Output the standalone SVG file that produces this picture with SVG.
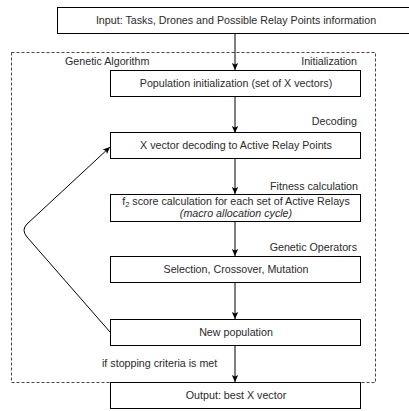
<svg xmlns="http://www.w3.org/2000/svg" width="409" height="411" viewBox="0 0 409 411">
<defs>
<marker id="ah" markerWidth="8" markerHeight="8" refX="7" refY="4" orient="auto" markerUnits="userSpaceOnUse">
<path d="M0,0.8 L7,4 L0,7.2 L1.5,4 Z" fill="#000"/>
</marker>
</defs>
<style>
.box{fill:#fff;stroke:#000;stroke-width:1}
.t{font-family:"Liberation Sans",Arial,sans-serif;font-size:10.7px;fill:#2a2a2a;text-anchor:middle}
.lbl{font-family:"Liberation Sans",Arial,sans-serif;font-size:10.7px;fill:#2a2a2a}
.c{fill:none;stroke:#000;stroke-width:1;marker-end:url(#ah)}
</style>
<rect width="409" height="411" fill="#fff"/>
<g id="genetic-algorithm">
<rect x="11.5" y="52.5" width="364" height="330" fill="none" stroke="#444" stroke-width="1" stroke-dasharray="3,2"/>
<text class="lbl" x="65" y="65">Genetic Algorithm</text>
</g>
<g id="connectors">
<path class="c" d="M235,33 V70"/>
<path class="c" d="M235,96 V133"/>
<path class="c" d="M235,158 V194"/>
<path class="c" d="M235,221 V256"/>
<path class="c" d="M235,283 V319"/>
<path class="c" d="M235,346 V382"/>
<path class="c" d="M110,332 L27,237 Q21,230 27,224 L110,147"/>
</g>
<g id="input">
<rect class="box" x="57.5" y="7.5" width="353" height="26"/>
<text class="t" x="236" y="24">Input: Tasks, Drones and Possible Relay Points information</text>
</g>
<g id="init">
<text class="lbl" x="357" y="65" text-anchor="end">Initialization</text>
<rect class="box" x="110.5" y="70.5" width="250" height="26"/>
<text class="t" x="236" y="87">Population initialization (set of X vectors)</text>
</g>
<g id="decoding">
<text class="lbl" x="357" y="125" text-anchor="end">Decoding</text>
<rect class="box" x="110.5" y="132.5" width="250" height="26"/>
<text class="t" x="236" y="149">X vector decoding to Active Relay Points</text>
</g>
<g id="fitness">
<text class="lbl" x="358" y="190" text-anchor="end">Fitness calculation</text>
<rect class="box" x="110.5" y="194.5" width="250" height="27"/>
<text class="t" x="236" y="205">f<tspan font-size="7.5" dy="2">2</tspan><tspan dy="-2"> score calculation for each set of Active Relays</tspan></text>
<text class="t" x="236" y="217" font-style="italic">(macro allocation cycle)</text>
</g>
<g id="operators">
<text class="lbl" x="357" y="251" text-anchor="end">Genetic Operators</text>
<rect class="box" x="110.5" y="256.5" width="250" height="26"/>
<text class="t" x="236" y="273">Selection, Crossover, Mutation</text>
</g>
<g id="new-population">
<rect class="box" x="110.5" y="319.5" width="250" height="26"/>
<text class="t" x="236" y="336">New population</text>
</g>
<g id="output">
<text class="lbl" x="102" y="367">if stopping criteria is met</text>
<rect class="box" x="110.5" y="382.5" width="250" height="26"/>
<text class="t" x="236" y="399">Output: best X vector</text>
</g>
</svg>
